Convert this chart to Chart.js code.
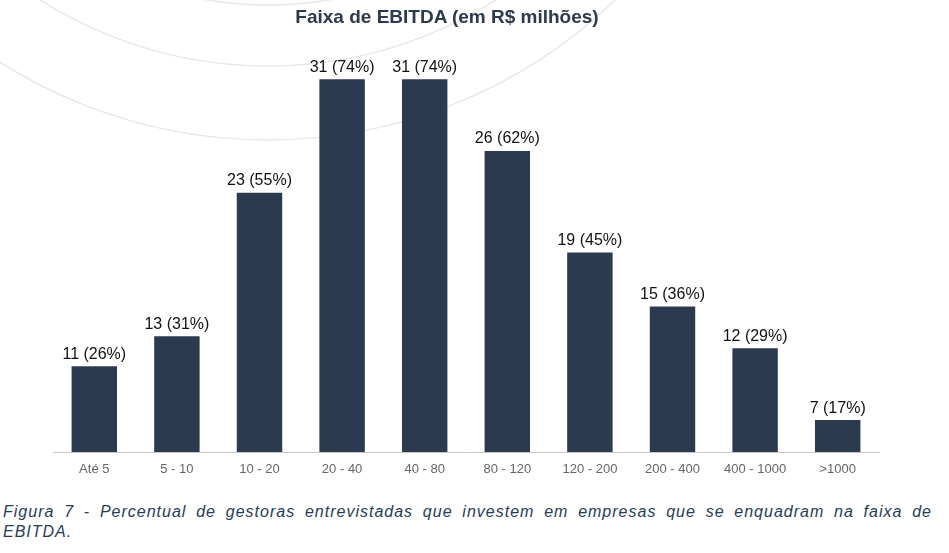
<!DOCTYPE html>
<html>
<head>
<meta charset="utf-8">
<script src="https://cdn.jsdelivr.net/npm/chart.js@4.4.1/dist/chart.umd.min.js"></script>
<style>
  html, body { margin: 0; padding: 0; background: #fff; }
  #wrap { position: relative; width: 949px; height: 553px; overflow: hidden; }
  #chart { position: absolute; left: 0; top: 0; }
  #title {
    position: absolute; left: 247px; width: 400px; top: 6px;
    text-align: center; font: bold 19px "Liberation Sans", Arial, sans-serif;
    line-height: 21px; color: #2d3a4e;
  }
  #caption {
    position: absolute; left: 3px; width: 929px; top: 502px;
    font: italic 16px "Liberation Sans", Arial, sans-serif; line-height: 20px;
    letter-spacing: 1px; text-align: justify; color: #263c58;
  }
</style>
</head>
<body>
<div id="wrap">
  <canvas id="chart" width="949" height="490"></canvas>
  <div id="title">Faixa de EBITDA (em R$ milhões)</div>
  <div id="caption">Figura 7 - Percentual de gestoras entrevistadas que investem em empresas que se enquadram na faixa de EBITDA.</div>
</div>
<script>
const faixas = ['Até 5', '5 - 10', '10 - 20', '20 - 40', '40 - 80', '80 - 120', '120 - 200', '200 - 400', '400 - 1000', '>1000'];
const gestoras = [11, 13, 23, 31, 31, 26, 19, 15, 12, 7];
const percentuais = [26, 31, 55, 74, 74, 62, 45, 36, 29, 17];

const BAR_COLOR = '#2c3a50';

// faint decorative arcs in the background
const arcsPlugin = {
  id: 'arcs',
  beforeDraw(chart) {
    const ctx = chart.ctx;
    ctx.save();
    ctx.strokeStyle = '#e8e8e8';
    ctx.lineWidth = 1.5;
    [365, 426, 500].forEach(r => {
      ctx.beginPath();
      ctx.arc(268, -360, r, 0, Math.PI);
      ctx.stroke();
    });
    ctx.restore();
  }
};

// "11 (26%)" labels above the bars
const valueLabels = {
  id: 'valueLabels',
  afterDatasetsDraw(chart) {
    const ctx = chart.ctx;
    const meta = chart.getDatasetMeta(0);
    ctx.save();
    ctx.font = '16px "Liberation Sans", Arial, sans-serif';
    ctx.fillStyle = '#111';
    ctx.textAlign = 'center';
    ctx.textBaseline = 'alphabetic';
    meta.data.forEach((bar, i) => {
      ctx.fillText(gestoras[i] + ' (' + percentuais[i] + '%)', bar.x, bar.y - 7.5);
    });
    ctx.restore();
  }
};

new Chart(document.getElementById('chart'), {
  type: 'bar',
  data: {
    labels: faixas,
    datasets: [{
      data: percentuais,
      backgroundColor: BAR_COLOR,
      borderWidth: 0,
      categoryPercentage: 1,
      barPercentage: 0.55,
    }]
  },
  options: {
    responsive: false,
    animation: false,
    layout: { padding: { left: 53, right: 70, top: 60, bottom: 0 } },
    plugins: { legend: { display: false }, tooltip: { enabled: false } },
    scales: {
      x: {
        grid: { display: false, drawTicks: false },
        border: { display: true, color: '#c9c9c9', width: 1 },
        ticks: { color: '#666', padding: 10, font: { family: '"Liberation Sans", Arial, sans-serif', size: 13 } },
        afterFit(scale) { scale.height = 38; }
      },
      y: {
        display: false,
        min: 11.65,
        max: 77.2,
      }
    }
  },
  plugins: [arcsPlugin, valueLabels]
});
</script>
</body>
</html>
